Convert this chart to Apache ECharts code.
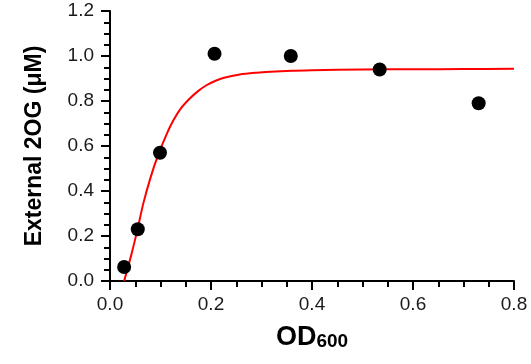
<!DOCTYPE html>
<html>
<head>
<meta charset="utf-8">
<script src="https://cdn.jsdelivr.net/npm/echarts@6/dist/echarts.min.js"></script>
<style>
html,body{margin:0;padding:0;background:#fff;}
#chart{width:531px;height:364px;}
</style>
</head>
<body>
<div id="chart"></div>
<script>
// Measured data points (OD600, external 2OG in µM)
const pointX = [0.028, 0.055, 0.099, 0.207, 0.358, 0.534, 0.730];
const pointY = [0.062, 0.230, 0.570, 1.010, 1.000, 0.940, 0.790];
// Fitted curve
const curveX = [0.028, 0.042, 0.054, 0.066, 0.081, 0.095, 0.112, 0.125, 0.140, 0.158, 0.175, 0.191, 0.208, 0.224, 0.257, 0.290, 0.317, 0.360, 0.400, 0.500, 0.600, 0.700, 0.800];
const curveY = [0.000, 0.115, 0.225, 0.345, 0.465, 0.558, 0.652, 0.712, 0.766, 0.811, 0.845, 0.870, 0.889, 0.902, 0.918, 0.926, 0.930, 0.934, 0.937, 0.940, 0.941, 0.942, 0.943];
const xTicks = { min: 0, max: 0.8, interval: 0.2 };
const yTicks = { min: 0, max: 1.2, interval: 0.2 };

const chart = echarts.init(document.getElementById('chart'), null, {renderer: 'canvas'});
const font = 'Liberation Sans, Arial, sans-serif';
const axisCommon = {
  axisLine: {show: true, onZero: false, lineStyle: {color: '#000', width: 2}},
  axisTick: {show: true, inside: false, length: 9, lineStyle: {color: '#000', width: 2}},
  minorTick: {show: true, splitNumber: 4, length: 6, lineStyle: {color: '#000', width: 2}},
  splitLine: {show: false},
  minorSplitLine: {show: false},
  axisLabel: {color: '#1a1a1a', fontSize: 19, fontFamily: font, formatter: v => v.toFixed(1)}
};
chart.setOption({
  animation: false,
  backgroundColor: '#fff',
  grid: {left: 110, right: 17, top: 11, bottom: 83, containLabel: false},
  xAxis: Object.assign({}, axisCommon, {
    type: 'value', min: xTicks.min, max: xTicks.max, interval: xTicks.interval,
    axisLabel: Object.assign({}, axisCommon.axisLabel, {margin: 14}),
    name: '{a|OD}{b|600}',
    nameLocation: 'middle', nameGap: 43,
    nameTextStyle: {
      fontFamily: font, fontWeight: 'bold', color: '#000',
      rich: {
        a: {fontSize: 27, fontWeight: 'bold', fontFamily: font, lineHeight: 27, verticalAlign: 'top', color: '#000'},
        b: {fontSize: 19, fontWeight: 'bold', fontFamily: font, lineHeight: 19, padding: [13, 0, 0, 0], verticalAlign: 'bottom', color: '#000'}
      }
    }
  }),
  yAxis: Object.assign({}, axisCommon, {
    type: 'value', min: yTicks.min, max: yTicks.max, interval: yTicks.interval,
    axisLabel: Object.assign({}, axisCommon.axisLabel, {margin: 16}),
    name: 'External 2OG (μM)',
    nameLocation: 'middle', nameGap: 64, nameRotate: 90,
    nameTextStyle: {fontFamily: font, fontWeight: 'bold', fontSize: 23, color: '#000'}
  }),
  series: [
    {
      type: 'line', data: curveX.map((x, i) => [x, curveY[i]]),
      showSymbol: false, smooth: 0.3,
      lineStyle: {color: '#ff0000', width: 2}, z: 2
    },
    {
      type: 'scatter', data: pointX.map((x, i) => [x, pointY[i]]),
      symbol: 'circle', symbolSize: 14,
      itemStyle: {color: '#000', opacity: 1}, z: 3
    }
  ]
});
</script>
</body>
</html>
